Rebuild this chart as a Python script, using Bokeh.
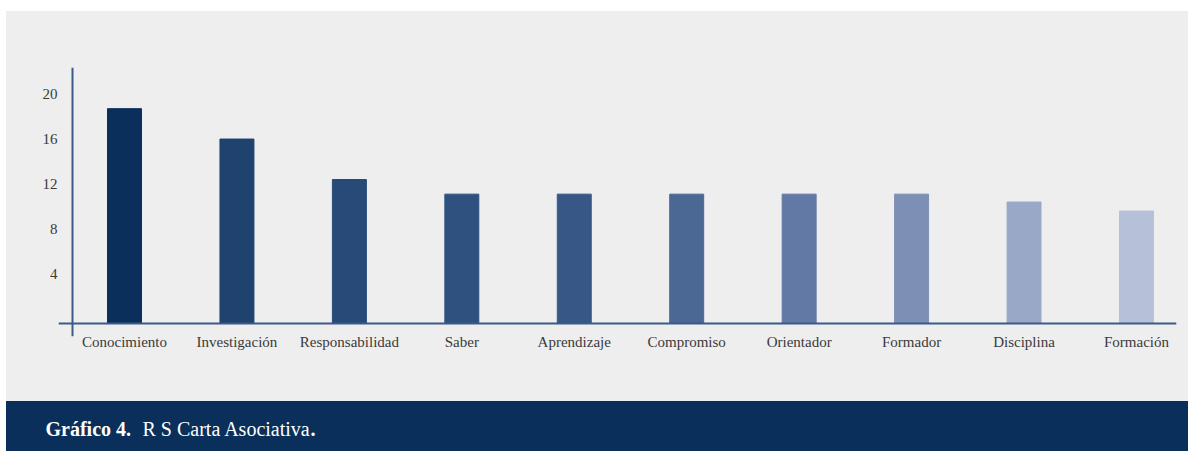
from bokeh.plotting import figure
from bokeh.models import Span, Label, FixedTicker, Range1d, ColumnDataSource, LinearAxis, Spacer
from bokeh.layouts import column, row
from bokeh.embed import file_html
from bokeh.resources import INLINE

# ---- data ----
categories = ["Conocimiento", "Investigación", "Responsabilidad", "Saber", "Aprendizaje",
              "Compromiso", "Orientador", "Formador", "Disciplina", "Formación"]
values = [19.1, 16.4, 12.8, 11.5, 11.5, 11.5, 11.5, 11.5, 10.8, 10.0]
bar_colors = ["#0B2F5B", "#1F426E", "#284A78", "#2E5180", "#375787",
              "#4B6794", "#6279A6", "#7D8FB4", "#9AA8C7", "#B6C1D9"]
y_ticks = [4, 8, 12, 16, 20]
caption_bold = "Gráfico 4."
caption_text = "R S Carta Asociativa"
caption_end = "."

FONT = "Liberation Serif"
BG = "#EEEEEE"
NAVY = "#0B2F5B"
AXIS = "#3B5A86"
TXT = "#3A3A3A"

xs = list(range(len(categories)))
src = ColumnDataSource(dict(x=xs, top=values, color=bar_colors))

x_start, x_end = -0.587, 9.356
y_start, y_end = -1.156, 22.76
label_shift = 0.444  # tick labels sit slightly above their ticks in the original

p = figure(width=1182, height=390, output_backend="svg", toolbar_location=None,
           x_range=Range1d(x_start, x_end), y_range=Range1d(y_start, y_end),
           y_axis_location=None,
           min_border_left=52, min_border_right=12, min_border_top=56, min_border_bottom=65)
p.background_fill_color = BG
p.border_fill_color = BG
p.outline_line_color = None
p.grid.visible = False
p.styles = {"background-color": BG}
p.frame_align = False

p.vbar(x="x", top="top", bottom=0, width=0.302, color="color", source=src)

# crossing axis lines
p.add_layout(Span(location=0, dimension="width", line_color=AXIS, line_width=2))
p.add_layout(Span(location=x_start + 14 / 112.44, dimension="height", line_color=AXIS, line_width=2))

xa = p.xaxis[0]
xa.ticker = FixedTicker(ticks=xs)
xa.major_label_overrides = {i: c for i, c in zip(xs, categories)}
xa.axis_line_color = None
xa.major_tick_line_color = None
xa.minor_tick_line_color = None
xa.major_tick_out = 0
xa.major_label_standoff = -3
xa.major_label_text_font = FONT
xa.major_label_text_font_size = "15px"
xa.major_label_text_color = TXT

p.extra_y_ranges = {"lab": Range1d(y_start - label_shift, y_end - label_shift)}
ya = LinearAxis(y_range_name="lab", ticker=FixedTicker(ticks=y_ticks))
ya.axis_line_color = None
ya.major_tick_line_color = None
ya.minor_tick_line_color = None
ya.major_tick_out = 0
ya.major_label_standoff = 1
ya.major_label_text_font = FONT
ya.major_label_text_font_size = "15px"
ya.major_label_text_color = TXT
p.add_layout(ya, "left")

# caption banner
b = figure(width=1182, height=50, output_backend="svg", toolbar_location=None,
           x_range=Range1d(0, 1), y_range=Range1d(0, 1),
           x_axis_type=None, y_axis_type=None, min_border=0)
b.background_fill_color = NAVY
b.border_fill_color = NAVY
b.outline_line_color = None
b.grid.visible = False
b.styles = {"background-color": NAVY}
b.frame_align = False
ycap = 0.46
b.add_layout(Label(x=39, y=ycap, x_units="screen", text=caption_bold, text_font=FONT,
                   text_font_style="bold", text_font_size="20px", text_color="white",
                   text_baseline="alphabetic"))
b.add_layout(Label(x=136, y=ycap, x_units="screen", text=caption_text, text_font=FONT,
                   text_font_size="20px", text_color="white", text_baseline="alphabetic"))
b.add_layout(Label(x=304, y=ycap, x_units="screen", text=caption_end, text_font=FONT,
                   text_font_style="bold", text_font_size="20px", text_color="white",
                   text_baseline="alphabetic"))

layout = row(Spacer(width=6), column(Spacer(height=11), p, b, spacing=0), spacing=0)
open("out.html", "w").write(file_html(layout, INLINE))
